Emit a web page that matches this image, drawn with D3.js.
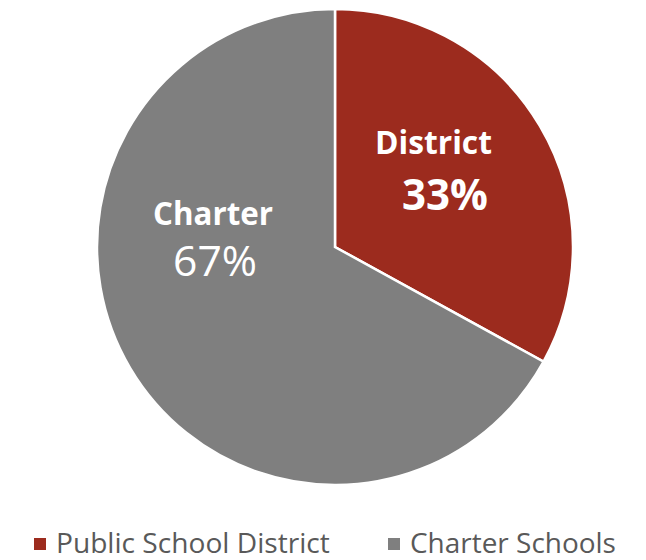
<!DOCTYPE html>
<html><head><meta charset="utf-8">
<script src="https://cdn.jsdelivr.net/npm/d3@7"></script>
<style>body{margin:0;background:#fff;} svg{display:block;}</style>
</head><body>
<svg id="c" width="646" height="560"></svg>
<script>
const categories = ["Public School District", "Charter Schools"];
const shortLabels = ["District", "Charter"];
const values = [33, 67];
const colors = ["#9C2B1E", "#7F7F7F"];

const svg = d3.select("#c");
const cx = 335, cy = 247, r = 238;
const font = "'Open Sans', Lato, sans-serif";

const pie = d3.pie().sort(null).value(d => d)(values);
const arc = d3.arc().innerRadius(0).outerRadius(r);
const g = svg.append("g").attr("transform", `translate(${cx},${cy})`);
g.selectAll("path").data(pie).enter().append("path")
  .attr("d", arc).attr("fill", (d, i) => colors[i])
  .attr("stroke", "#fff").attr("stroke-width", 2.5);

function fit(sel, w) {
  const bw = sel.node().getComputedTextLength();
  const fs = parseFloat(sel.attr("font-size"));
  sel.attr("font-size", fs * w / bw);
}

// labels
const labelPos = [
  {x: 433.5, y: 154, w: 117, px: 445, py: 210, pw: "bold", ww: 86},
  {x: 213, y: 225, w: 120, px: 215, py: 276, pw: "normal", ww: 84}
];
values.forEach((v, i) => {
  const p = labelPos[i];
  const t1 = svg.append("text").attr("x", p.x).attr("y", p.y).attr("text-anchor", "middle")
    .attr("fill", "#fff").attr("font-family", font).attr("font-weight", "bold")
    .attr("font-size", 28).text(shortLabels[i]);
  fit(t1, p.w);
  const t2 = svg.append("text").attr("x", p.px).attr("y", p.py).attr("text-anchor", "middle")
    .attr("fill", "#fff").attr("font-family", font).attr("font-weight", p.pw)
    .attr("font-size", 36).text(v + "%");
  fit(t2, p.ww);
});

// legend
const legendX = [34, 388];
const legendW = [274, 206];
categories.forEach((c, i) => {
  svg.append("rect").attr("x", legendX[i]).attr("y", 538).attr("width", 12).attr("height", 12)
    .attr("fill", colors[i]);
  const t = svg.append("text").attr("x", legendX[i] + 22).attr("y", 553)
    .attr("font-family", font).attr("font-size", 26).attr("fill", "#595959").text(c);
  fit(t, legendW[i]);
});
</script>
</body></html>
